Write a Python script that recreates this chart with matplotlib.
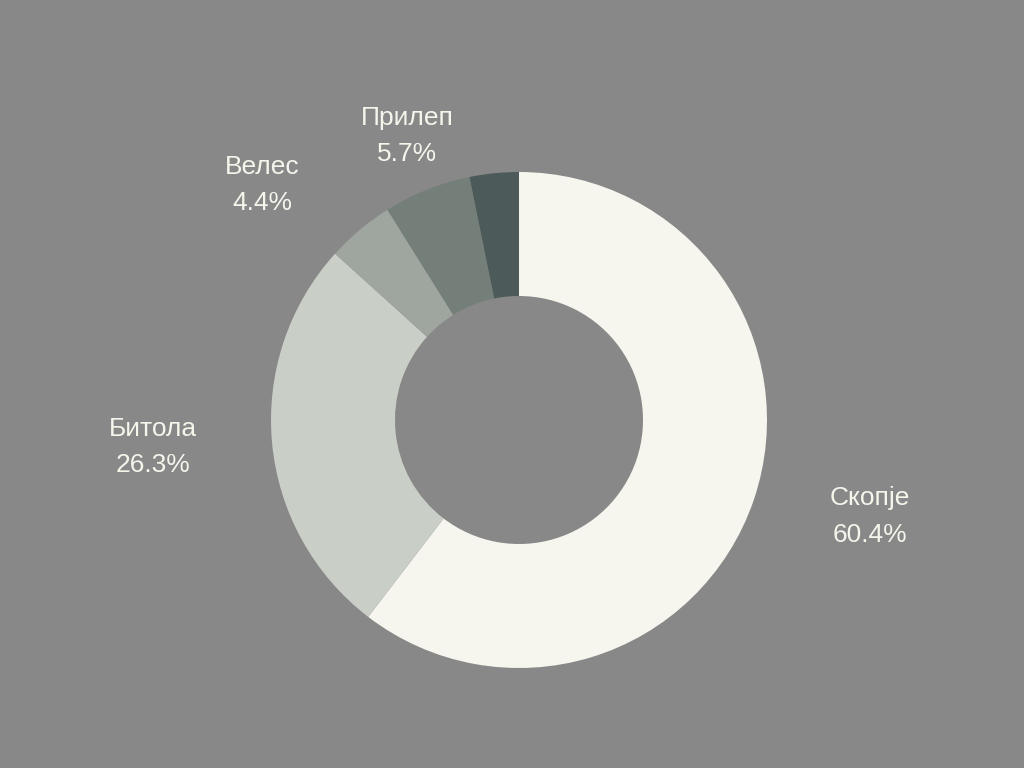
import numpy as np
import matplotlib
matplotlib.use("Agg")
import matplotlib.pyplot as plt

# ---------------------------------------------------------
# DATA
# ---------------------------------------------------------
CITIES = ["Скопје", "Битола", "Велес", "Прилеп", ""]
SHARES = [60.4, 26.3, 4.4, 5.7, 3.2]

# ---------------------------------------------------------
# STYLE
# ---------------------------------------------------------
BG = "#888888"
TEXT_COLOR = "#f5f5ec"
COLORS = ["#f6f6ee", "#c9cec6", "#9ea69f", "#757f7a", "#4d5a5a"]
LABEL_DIST = [1.468, 1.480, 1.404, 1.231, 1.3]
LABEL_SHIFT = [3.3, -1.0, 7.6, -0.25, 0.0]   # degrees off the wedge middle

plt.rcParams["font.family"] = ["Liberation Sans", "DejaVu Sans"]

fig = plt.figure(figsize=(10.24, 7.68), dpi=100, facecolor=BG)
ax = fig.add_axes([0, 0, 1, 1])
ax.set_facecolor(BG)

wedges, _ = ax.pie(
    SHARES,
    colors=COLORS,
    startangle=90,
    counterclock=False,
    radius=1.0,
    wedgeprops=dict(width=0.5, edgecolor="none"),
)

for w, name, val, dist, shift in zip(wedges, CITIES, SHARES, LABEL_DIST, LABEL_SHIFT):
    if not name:
        continue
    ang = np.deg2rad((w.theta1 + w.theta2) / 2 + shift)
    ax.text(
        dist * np.cos(ang), dist * np.sin(ang),
        f"{name}\n{val:.1f}%",
        ha="center", va="center",
        fontsize=19, color=TEXT_COLOR,
        linespacing=1.68,
    )

# pixel layout: centre at (519, 420), outer radius 248 px
scale = 248.0
ax.set_xlim(-519 / scale, (1024 - 519) / scale)
ax.set_ylim(-(768 - 420) / scale, 420 / scale)
ax.axis("off")

plt.savefig("out.png", dpi=100, facecolor=BG)
plt.close()
